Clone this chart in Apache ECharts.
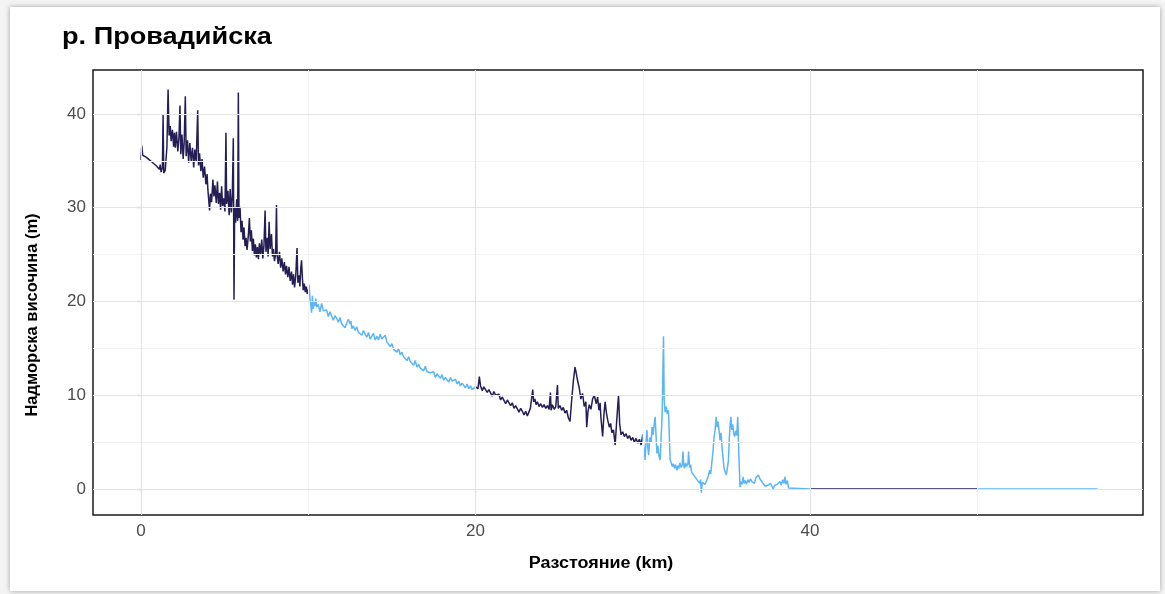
<!DOCTYPE html>
<html>
<head>
<meta charset="utf-8">
<script src="https://cdn.jsdelivr.net/npm/echarts@6/dist/echarts.min.js"></script>
<style>
html,body{margin:0;padding:0;background:#f4f4f4;width:1165px;height:594px;overflow:hidden;}
#card{position:absolute;left:10px;top:7px;width:1150px;height:584px;background:#fff;box-shadow:0 0 5px rgba(0,0,0,0.35);}
#chart{position:absolute;left:0;top:0;width:1165px;height:594px;}
</style>
</head>
<body>
<div id="card"></div>
<div id="chart"></div>
<script>
// ---- data (distance km, elevation m), by 10-km segment ----
const titleText = 'р. Провадийска';
const xTitle = 'Разстояние (km)';
const yTitle = 'Надморска височина (m)';
const xTicks = [0, 20, 40];
const yTicks = [0, 10, 20, 30, 40];
const xMinorGrid = [10, 30, 50];
const yMinorGrid = [5, 15, 25, 35];

const dist1 = [0,0.05,0.1,0.2,0.3,0.4,0.5,0.6,0.7,0.8,0.9,1.0,1.1,1.15,1.2,1.28,1.32,1.36,1.45,1.55,1.62,1.68,1.75,1.8,1.88,1.95,2.0,2.05,2.12,2.2,2.27,2.33,2.38,2.45,2.52,2.58,2.65,2.7,2.78,2.85,2.92,3.0,3.08,3.15,3.22,3.3,3.39,3.44,3.5,3.58,3.65,3.72,3.8,3.88,3.95,4.0,4.05,4.1,4.15,4.22,4.3,4.36,4.42,4.5,4.57,4.63,4.7,4.76,4.82,4.88,4.95,5.02,5.08,5.12,5.2,5.27,5.33,5.4,5.46,5.52,5.56,5.6,5.66,5.72,5.78,5.82,5.86,5.92,5.98,6.04,6.1,6.16,6.22,6.28,6.34,6.42,6.48,6.54,6.6,6.66,6.72,6.78,6.84,6.9,6.96,7.02,7.08,7.15,7.22,7.28,7.35,7.42,7.47,7.55,7.6,7.66,7.72,7.8,7.86,7.92,7.98,8.05,8.1,8.14,8.2,8.28,8.35,8.42,8.5,8.57,8.64,8.7,8.78,8.85,8.92,9.0,9.06,9.12,9.18,9.25,9.33,9.38,9.44,9.5,9.55,9.6,9.65,9.7,9.76,9.82,9.88,9.94,10.0];
const elev1 = [35.1,36.6,35.6,35.8,35.4,35.6,35.1,35.3,34.8,35.0,34.5,34.7,34.1,34.6,33.8,34.3,39.9,33.7,34.0,36.5,42.6,37.7,38.7,37.1,38.3,36.5,38.0,36.4,38.1,36.0,37.5,40.9,35.7,37.8,35.2,36.9,41.9,35.5,37.2,34.8,36.9,35.0,36.4,34.3,36.2,34.9,40.4,34.5,35.8,33.9,35.2,33.2,34.4,32.5,33.6,31.9,30.8,29.7,31.5,30.6,33.0,31.2,32.4,30.5,32.8,30.4,31.6,29.8,32.3,30.2,31.0,29.6,38.0,30.4,31.8,29.2,32.0,29.5,31.3,37.4,20.2,30.0,28.4,30.9,28.6,42.3,28.9,30.1,27.4,28.6,26.6,27.9,25.9,26.8,25.5,27.1,28.9,26.4,27.6,25.4,26.7,24.9,26.1,24.7,25.8,24.5,26.2,25.0,26.6,24.6,25.9,29.7,25.3,26.8,24.8,28.5,25.6,27.2,24.8,25.6,24.3,25.1,30.3,24.9,24.0,25.3,23.6,24.6,23.2,24.2,22.9,23.8,22.6,23.7,22.2,23.2,21.8,22.9,21.5,22.7,25.7,22.0,22.8,21.6,23.5,24.4,22.5,21.2,21.9,21.0,21.6,20.8,21.3];

const dist2 = [10.0,10.05,10.1,10.15,10.2,10.25,10.3,10.35,10.4,10.45,10.5,10.6,10.7,10.8,10.9,11.0,11.1,11.2,11.3,11.4,11.5,11.6,11.7,11.8,11.9,12.0,12.1,12.2,12.3,12.4,12.5,12.55,12.6,12.7,12.8,12.9,13.0,13.1,13.2,13.3,13.4,13.5,13.6,13.7,13.8,13.9,14.0,14.1,14.2,14.3,14.4,14.5,14.6,14.7,14.8,14.9,15.0,15.1,15.2,15.3,15.4,15.5,15.6,15.7,15.8,15.9,16.0,16.1,16.2,16.3,16.4,16.5,16.6,16.7,16.8,16.9,17.0,17.1,17.2,17.3,17.4,17.5,17.6,17.7,17.8,17.9,18.0,18.1,18.2,18.3,18.4,18.5,18.6,18.7,18.8,18.9,19.0,19.1,19.2,19.3,19.4,19.5,19.6,19.7,19.8,19.9,20.0];
const elev2 = [21.3,21.8,20.4,19.6,18.8,20.6,19.2,19.9,19.5,20.3,19.4,19.7,18.9,19.8,19.0,18.8,19.1,18.4,18.9,18.7,18.0,18.5,18.2,17.8,18.3,17.6,17.8,17.2,17.7,18.1,17.6,17.9,17.1,17.4,16.9,17.3,16.7,16.9,16.4,16.9,16.5,16.2,16.7,16.0,16.3,16.6,15.9,16.3,15.9,16.5,16.0,16.2,16.4,15.7,15.8,15.2,15.5,14.9,14.8,14.6,15.0,14.3,14.6,14.1,14.2,13.7,14.1,13.6,13.5,13.2,13.7,13.0,13.3,12.9,12.8,12.6,13.1,12.5,12.7,12.4,12.3,12.5,11.9,12.3,12.2,11.8,12.2,11.6,11.9,11.8,11.4,11.9,11.5,11.3,11.7,11.2,11.5,11.0,11.3,11.1,10.8,11.2,10.7,11.0,10.6,10.8,10.9];

const dist3 = [20.0,20.08,20.15,20.23,20.3,20.4,20.5,20.6,20.7,20.8,20.9,21.0,21.1,21.2,21.3,21.4,21.5,21.6,21.7,21.8,21.9,22.0,22.1,22.2,22.3,22.4,22.5,22.6,22.7,22.8,22.9,23.0,23.1,23.2,23.28,23.35,23.42,23.48,23.55,23.62,23.7,23.8,23.9,24.0,24.1,24.2,24.3,24.4,24.48,24.52,24.6,24.7,24.8,24.9,24.95,25.05,25.15,25.25,25.35,25.45,25.55,25.65,25.75,25.85,25.95,26.02,26.1,26.2,26.3,26.4,26.5,26.6,26.65,26.72,26.8,26.9,27.0,27.1,27.15,27.22,27.3,27.38,27.45,27.5,27.6,27.68,27.75,27.82,27.9,28.0,28.08,28.15,28.25,28.35,28.45,28.55,28.62,28.7,28.8,28.9,29.0,29.1,29.2,29.3,29.4,29.5,29.6,29.7,29.8,29.9,30.0];
const elev3 = [10.9,11.1,10.7,12.0,11.0,10.5,10.9,10.7,10.3,10.6,10.4,9.9,10.4,10.0,9.8,10.1,9.5,9.8,9.6,9.1,9.5,9.2,8.9,9.2,8.6,8.9,8.7,8.2,8.6,8.3,7.9,8.3,7.8,7.7,8.6,9.6,10.6,9.3,9.6,9.0,9.3,8.8,9.1,8.7,9.0,8.6,8.9,8.5,10.3,8.4,9.0,8.5,8.8,11.1,8.6,8.9,8.4,8.7,8.1,8.4,7.6,7.2,9.5,11.5,13.0,12.4,11.6,10.8,9.6,10.2,8.8,9.3,6.6,8.2,9.0,8.5,9.6,10.0,10.2,9.1,9.8,8.4,9.2,7.6,5.6,8.0,9.3,8.2,7.4,6.6,7.0,6.0,6.3,4.7,7.5,10.0,7.0,5.8,6.1,5.6,5.9,5.4,5.7,5.2,5.5,5.0,5.4,4.9,5.3,4.7,5.8];

const dist4 = [30.0,30.04,30.1,30.14,30.2,30.25,30.3,30.35,30.42,30.5,30.56,30.62,30.68,30.74,30.8,30.85,30.9,30.96,31.04,31.1,31.16,31.24,31.28,31.34,31.4,31.47,31.54,31.58,31.64,31.7,31.77,31.83,31.9,31.96,32.04,32.1,32.16,32.22,32.3,32.36,32.4,32.45,32.5,32.56,32.62,32.7,32.74,32.8,32.86,32.92,33.0,33.08,33.16,33.24,33.32,33.4,33.46,33.5,33.56,33.64,33.72,33.8,33.86,33.92,34.0,34.06,34.13,34.2,34.26,34.32,34.39,34.45,34.5,34.56,34.62,34.68,34.74,34.8,34.86,34.92,35.0,35.06,35.12,35.18,35.22,35.27,35.32,35.38,35.44,35.5,35.56,35.62,35.68,35.74,35.8,35.82,35.88,35.94,36.0,36.06,36.12,36.2,36.28,36.36,36.44,36.52,36.6,36.68,36.76,36.84,36.92,37.0,37.08,37.16,37.24,37.32,37.4,37.48,37.56,37.64,37.72,37.8,37.88,37.96,38.04,38.12,38.2,38.28,38.36,38.44,38.5,38.56,38.64,38.72,38.8,40.0];
const elev4 = [5.8,4.9,4.0,3.1,5.2,6.3,4.5,3.6,5.5,5.0,6.6,5.8,6.9,7.7,5.5,3.8,4.6,3.6,3.1,5.5,8.0,16.3,9.5,8.2,8.8,8.0,8.4,6.0,3.1,2.8,2.4,2.7,2.2,2.6,2.0,2.5,2.2,2.8,2.3,2.6,4.0,2.5,2.2,2.8,2.4,2.7,4.0,2.3,2.6,1.8,2.0,1.4,1.6,1.0,1.1,0.6,1.0,-0.4,0.7,0.9,0.5,0.8,0.6,1.4,2.0,1.6,2.8,4.0,5.5,6.2,7.7,6.6,7.2,6.3,5.2,6.0,4.4,3.4,2.2,1.9,1.5,1.3,3.0,5.6,6.8,7.7,6.3,6.9,5.9,5.6,6.2,5.7,7.7,4.0,0.9,0.2,0.8,0.5,1.3,0.6,0.9,0.5,1.0,0.7,1.1,0.8,1.0,0.6,1.2,1.0,1.5,1.1,1.3,0.7,0.5,0.3,0.1,0.4,0.2,0.6,0.3,0.0,0.4,0.2,0.5,0.3,0.8,0.4,1.0,0.6,1.3,0.5,0.9,0.1,0.0,0.0];

const dist5 = [40.0, 50.0];
const elev5 = [0.0, 0.0];
const dist6 = [50.0, 57.2];
const elev6 = [0.0, 0.0];

const DARK = '#241e54';
const LIGHT = '#5bb5f6';

const segments = [
  {d: dist1, e: elev1, c: DARK},
  {d: dist2, e: elev2, c: LIGHT},
  {d: dist3, e: elev3, c: DARK},
  {d: dist4, e: elev4, c: LIGHT},
  {d: dist5, e: elev5, c: DARK},
  {d: dist6, e: elev6, c: LIGHT}
];

const chart = echarts.init(document.getElementById('chart'), null, {renderer: 'canvas'});

const FONT = '"Liberation Sans", Arial, sans-serif';

const gridSeries = {
  type: 'line', data: [], silent: true, z: 1,
  markLine: {
    silent: true, symbol: 'none', animation: false,
    label: {show: false},
    data: [
      ...xMinorGrid.map(v => ({xAxis: v, lineStyle: {color: '#f2f2f2', width: 1, type: 'solid'}})),
      ...yMinorGrid.map(v => ({yAxis: v, lineStyle: {color: '#f2f2f2', width: 1, type: 'solid'}})),
      ...xTicks.map(v => ({xAxis: v, lineStyle: {color: '#e3e3e3', width: 1.1, type: 'solid'}})),
      ...yTicks.map(v => ({yAxis: v, lineStyle: {color: '#e3e3e3', width: 1.1, type: 'solid'}}))
    ]
  }
};

const lineSeries = segments.map(s => ({
  type: 'line',
  data: s.d.map((x, i) => [x, s.e[i]]),
  showSymbol: false,
  symbol: 'none',
  z: 3,
  lineStyle: {color: s.c, width: 1.5},
  animation: false
}));

chart.setOption({
  animation: false,
  backgroundColor: 'transparent',
  grid: {left: 93, top: 70, width: 1050, height: 445, show: true, borderColor: '#1a1a1a', borderWidth: 1.5, backgroundColor: 'transparent', containLabel: false},
  xAxis: {
    type: 'value', min: -2.87, max: 59.91,
    axisLine: {show: false},
    splitLine: {show: false},
    axisTick: {show: true, length: 4, lineStyle: {color: '#333', width: 1.1}, customValues: xTicks},
    axisLabel: {show: true, customValues: xTicks, color: '#4d4d4d', fontSize: 17, fontFamily: FONT, margin: 8}
  },
  yAxis: {
    type: 'value', min: -2.77, max: 44.69,
    axisLine: {show: false},
    splitLine: {show: false},
    axisTick: {show: true, length: 4, lineStyle: {color: '#333', width: 1.1}, customValues: yTicks},
    axisLabel: {show: true, customValues: yTicks, color: '#4d4d4d', fontSize: 17, fontFamily: FONT, margin: 7}
  },
  graphic: [
    {type: 'text', x: 62, y: 37, scaleX: 1.13, style: {text: titleText, font: 'bold 24px ' + FONT, fill: '#000', align: 'left', verticalAlign: 'middle'}},
    {type: 'text', x: 601, y: 564, scaleX: 1.12, style: {text: xTitle, font: 'bold 16px ' + FONT, fill: '#000', align: 'center', verticalAlign: 'middle'}},
    {type: 'text', x: 32, y: 315, rotation: Math.PI / 2, style: {text: yTitle, font: 'bold 16.5px ' + FONT, fill: '#000', align: 'center', verticalAlign: 'middle'}}
  ],
  series: [gridSeries, ...lineSeries]
});
</script>
</body>
</html>
